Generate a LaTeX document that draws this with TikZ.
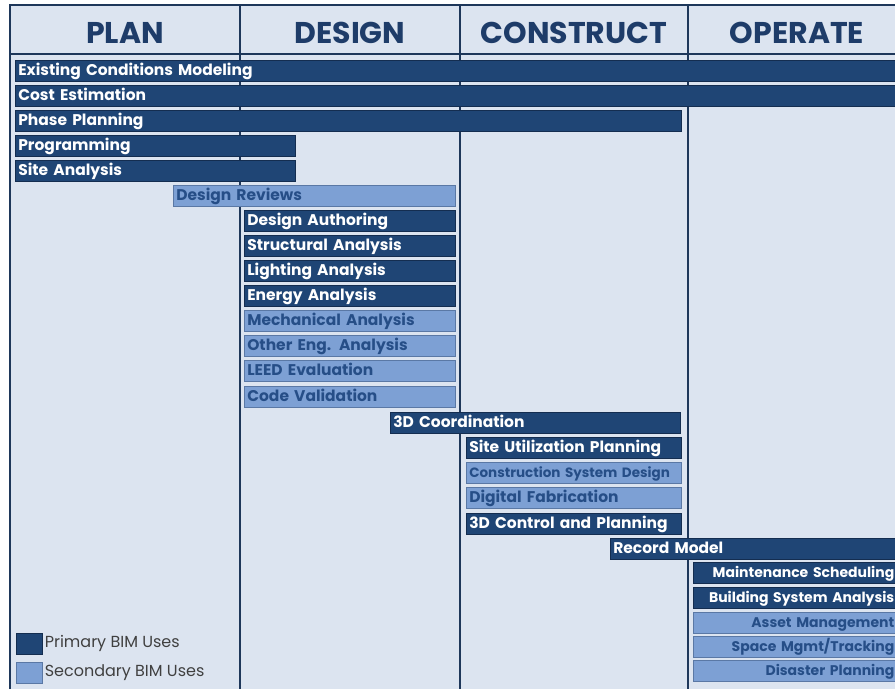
\documentclass[tikz,border=0pt]{standalone}
\usepackage{fontspec}
\setmainfont{Poppins}
\usetikzlibrary{positioning}

\definecolor{bimbg}{RGB}{220,228,240}
\definecolor{bimdark}{RGB}{31,69,117}
\definecolor{bimdarkedge}{RGB}{20,45,80}
\definecolor{bimlight}{RGB}{125,160,212}
\definecolor{bimlightedge}{RGB}{90,120,165}
\definecolor{bimtext}{RGB}{38,78,135}
\definecolor{bimhead}{RGB}{30,60,105}
\definecolor{bimline}{RGB}{30,55,90}

\tikzset{
  bimbar/.style={anchor=north west, inner xsep=3pt, inner ysep=0pt,
    minimum height=21pt, text height=12pt, text depth=3.5pt, align=left,
    line width=0.6pt, font=\bfseries\fontsize{15.5}{15.5}\selectfont},
  prim/.style={bimbar, fill=bimdark, draw=bimdarkedge, text=white},
  sec/.style={bimbar, fill=bimlight, draw=bimlightedge, text=bimtext},
  edge text/.style={align=right, font=\bfseries\fontsize{14}{14}\selectfont},
  phase/.style={font=\bfseries\fontsize{30}{30}\selectfont, text=bimhead},
  grid line/.style={bimline, line width=2pt},
  legbox/.style={minimum width=26pt, minimum height=21pt, inner sep=0pt, anchor=north west, line width=0.6pt},
  legtext/.style={anchor=west, inner sep=1pt, text=black!75, font=\fontsize{16}{16}\selectfont}
}

% bar: style, name, left x, top y, right x, label
\newcommand\bimbar[6]{%
  \pgfmathsetmacro\bimw{#5-#3-6}%
  \node[#1, text width=\bimw pt] (#2) at (#3,#4) {#6};%
}

\begin{document}
\begin{tikzpicture}[x=1pt,y=-1pt]
  \useasboundingbox (0,0) rectangle (895,689);
  \fill[white] (0,0) rectangle (895,689);
  \fill[bimbg] (10,5) rectangle (895,689);

  % frame and phase columns
  \draw[grid line] (10,689) -- (10,5) -- (895,5);
  \draw[grid line] (10,54) -- (895,54);
  \foreach \x in {240,460,688}
    \draw[grid line] (\x,5) -- (\x,689);

  \node[phase] (plan) at (125,33) {PLAN};
  \node[phase] (design) at (350,33) {DESIGN};
  \node[phase] (construct) at (574,33) {CONSTRUCT};
  \node[phase] (operate) at (797,33) {OPERATE};

  % plan
  \bimbar{prim}{existing}{15}{60}{899}{Existing Conditions Modeling}
  \bimbar{prim}{cost}{15}{85}{899}{Cost Estimation}
  \bimbar{prim}{phaseplan}{15}{110}{681}{Phase Planning}
  \bimbar{prim}{programming}{15}{135}{295}{Programming}
  \bimbar{prim}{siteana}{15}{160}{295}{Site Analysis}

  % design
  \bimbar{sec}{reviews}{173}{185}{455}{Design Reviews}
  \bimbar{prim}{authoring}{244}{210}{455}{Design Authoring}
  \bimbar{prim}{structural}{244}{235}{455}{Structural Analysis}
  \bimbar{prim}{lighting}{244}{260}{455}{Lighting Analysis}
  \bimbar{prim}{energy}{244}{285}{455}{Energy Analysis}
  \bimbar{sec}{mechanical}{244}{310}{455}{Mechanical Analysis}
  \bimbar{sec}{othereng}{244}{335}{455}{Other Eng. Analysis}
  \bimbar{sec}{leed}{244}{360}{455}{LEED Evaluation}
  \bimbar{sec}{codeval}{244}{386}{455}{Code Validation}

  % construct
  \bimbar{prim}{coord}{390}{412}{680}{3D Coordination}
  \bimbar{prim}{siteuse}{466}{437}{681}{Site Utilization Planning}
  \bimbar{sec, font=\bfseries\fontsize{13.5}{13.5}\selectfont}{constsys}{466}{462}{681}{Construction System Design}
  \bimbar{sec}{digfab}{466}{487}{681}{Digital Fabrication}
  \bimbar{prim}{control}{466}{513}{681}{3D Control and Planning}

  % operate (bars run to the right edge)
  \bimbar{prim}{record}{610}{538}{899}{Record Model}
  \bimbar{prim, edge text}{maint}{693}{562}{897}{Maintenance Scheduling}
  \bimbar{prim, edge text}{bldgsys}{693}{587}{897}{Building System Analysis}
  \bimbar{sec, edge text}{asset}{693}{612}{897}{Asset Management}
  \bimbar{sec, edge text}{space}{693}{636}{897}{Space Mgmt/Tracking}
  \bimbar{sec, edge text}{disaster}{693}{660}{897}{Disaster Planning}

  % legend
  \node[legbox, fill=bimdark, draw=bimdarkedge] (legprim) at (16,633) {};
  \node[legbox, fill=bimlight, draw=bimlightedge] (legsec) at (16,662) {};
  \node[legtext, right=1pt of legprim] (legprimtext) {Primary BIM Uses};
  \node[legtext, right=1pt of legsec] (legsectext) {Secondary BIM Uses};
\end{tikzpicture}
\end{document}
